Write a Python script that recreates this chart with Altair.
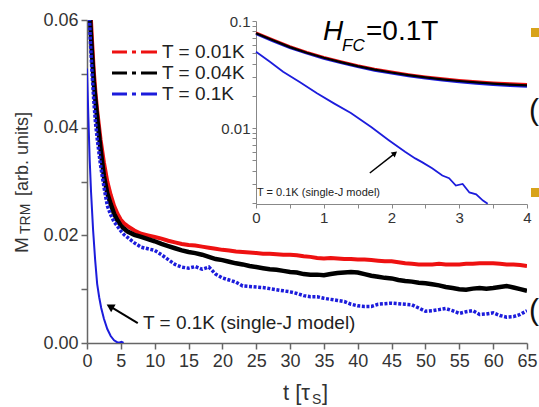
import altair as alt
import pandas as pd

FONT = "Liberation Sans"
OX, OY = 87, 20          # plot-area origin inside the 539x407 page
W, H = 440, 323

# ---------------- main panel data ----------------
MAIN_T = [0, 0.25, 0.5, 0.75, 1, 1.25, 1.5, 2, 2.5, 3, 3.5, 4, 4.5, 5, 5.5, 6,
          7, 8, 9, 10, 11, 12, 13, 14, 15, 16,
          17, 18, 19, 20, 21, 22, 23, 24, 25, 26,
          27, 28, 29, 30, 31, 32, 33, 34, 35, 36,
          37, 38, 39, 40, 41, 42, 43, 44, 45, 46,
          47, 48, 49, 50, 51, 52, 53, 54, 55, 56,
          57, 58, 59, 60, 61, 62, 63, 64, 65]

RED_001K = [0.078, 0.069, 0.062, 0.056, 0.0505, 0.0465, 0.0432, 0.0378, 0.0335, 0.0300,
            0.0275, 0.0255, 0.0240, 0.0229, 0.0222, 0.0217,
            0.0209, 0.0203, 0.0200, 0.0197, 0.0194, 0.0190, 0.0187, 0.0184, 0.0182, 0.0181,
            0.0179, 0.0177, 0.0175, 0.0173, 0.0172, 0.0170, 0.0169, 0.0168, 0.0167, 0.0166,
            0.0166, 0.0165, 0.0164, 0.0164, 0.0163, 0.0161, 0.0160, 0.0158, 0.0157, 0.0158,
            0.0157, 0.0156, 0.0156, 0.0155, 0.0155, 0.0154, 0.0153, 0.0152, 0.0152, 0.0150,
            0.0148, 0.0147, 0.0146, 0.0146, 0.0146, 0.0147, 0.0146, 0.0146, 0.0146, 0.0147,
            0.0147, 0.0148, 0.0148, 0.0148, 0.0147, 0.0146, 0.0146, 0.0145, 0.0143]

BLACK_004K = [0.077, 0.067, 0.059, 0.0535, 0.0485, 0.0450, 0.0418, 0.0360, 0.0310, 0.0278,
              0.0258, 0.0240, 0.0228, 0.0218, 0.0212, 0.0207,
              0.0201, 0.0197, 0.0193, 0.0189, 0.0184, 0.0180, 0.0176, 0.0172, 0.0169, 0.0167,
              0.0164, 0.0160, 0.0156, 0.0154, 0.0151, 0.0148, 0.0146, 0.0143, 0.0141, 0.0139,
              0.0137, 0.0136, 0.0134, 0.0132, 0.0131, 0.0128, 0.0127, 0.0127, 0.0126, 0.0128,
              0.0130, 0.0131, 0.0132, 0.0131, 0.0128, 0.0125, 0.0123, 0.0121, 0.0120, 0.0117,
              0.0115, 0.0114, 0.0112, 0.0111, 0.0109, 0.0107, 0.0104, 0.0102, 0.0100, 0.0099,
              0.0101, 0.0102, 0.0101, 0.0102, 0.0104, 0.0106, 0.0103, 0.0100, 0.0097]

BLUE_01K = [0.074, 0.064, 0.056, 0.050, 0.045, 0.041, 0.038, 0.0330, 0.0290, 0.0255,
            0.0238, 0.0225, 0.0217, 0.0208, 0.0201, 0.0196,
            0.0186, 0.0178, 0.0175, 0.0172, 0.0164, 0.0155, 0.0146, 0.0141, 0.0139, 0.0142,
            0.0137, 0.0141, 0.0128, 0.0121, 0.0117, 0.0113, 0.0106, 0.0105, 0.0104, 0.0103,
            0.0101, 0.0099, 0.0097, 0.0095, 0.0092, 0.0088, 0.0086, 0.0086, 0.0083, 0.0081,
            0.0079, 0.0077, 0.0072, 0.0069, 0.0068, 0.0068, 0.0072, 0.0073, 0.0074, 0.0073,
            0.0072, 0.0071, 0.0065, 0.0059, 0.0060, 0.0062, 0.0064, 0.0060, 0.0055, 0.0058,
            0.0060, 0.0053, 0.0054, 0.0056, 0.0051, 0.0048, 0.0049, 0.0053, 0.0060]

MODEL_T = [0, 0.2, 0.4, 0.6, 0.9, 1.2, 1.5, 1.8, 2.1, 2.5, 3.0, 3.5, 4.0, 4.5, 4.8, 5.1, 5.4]
MODEL_V = [0.051, 0.042, 0.034, 0.028, 0.021, 0.0155, 0.011, 0.0085, 0.0065, 0.0045,
           0.0026, 0.0013, 0.0005, 0.0001, 0.0001, 0.0002, 0.0]

# arrow (tail -> tip) in data units, main panel
ARROW_MAIN = {"t": [7.5], "v": [0.0037], "t2": [3.4], "v2": [0.0068]}

MAIN_X_TICKS = [0, 5, 10, 15, 20, 25, 30, 35, 40, 45, 50, 55, 60, 65]
MAIN_Y_TICKS = [0.0, 0.01, 0.02, 0.03, 0.04, 0.05, 0.06]

# ---------------- inset data ----------------
INSET_T = [0, 0.25, 0.5, 0.75, 1.0, 1.25, 1.5, 1.75, 2.0, 2.25, 2.5, 2.75, 3.0, 3.25, 3.5, 3.75, 4.0]
INSET_RED = [0.078, 0.067, 0.058, 0.051, 0.0458, 0.0418, 0.0384, 0.0356, 0.0335, 0.0317,
             0.0302, 0.0290, 0.0280, 0.0272, 0.0265, 0.0260, 0.0256]
INSET_BLACK = [0.077, 0.066, 0.057, 0.0505, 0.0453, 0.0413, 0.0379, 0.0351, 0.0330, 0.0312,
               0.0297, 0.0285, 0.0275, 0.0267, 0.0260, 0.0254, 0.0250]
INSET_BLUE = [0.076, 0.065, 0.056, 0.0498, 0.0447, 0.0407, 0.0373, 0.0345, 0.0324, 0.0306,
              0.0291, 0.0279, 0.0269, 0.0261, 0.0254, 0.0248, 0.0244]
INSET_MODEL_T = [0, 0.2, 0.4, 0.65, 0.9, 1.15, 1.4, 1.7, 1.96, 2.2, 2.35, 2.45, 2.6,
                 2.75, 2.85, 2.95, 3.05, 3.15, 3.25, 3.35, 3.42]
INSET_MODEL_V = [0.0516, 0.0418, 0.0336, 0.0268, 0.0211, 0.0170, 0.0138, 0.0102, 0.0077,
                 0.0060, 0.0052, 0.0048, 0.0042, 0.0036, 0.0034, 0.0029, 0.0030, 0.0025,
                 0.0024, 0.0021, 0.00196]
ARROW_INSET = {"t": [1.68], "v": [0.0038], "t2": [2.05], "v2": [0.0058]}

INSET_X_TICKS = [0, 0.5, 1, 1.5, 2, 2.5, 3, 3.5, 4]
INSET_Y_TICKS = [0.002, 0.003, 0.004, 0.005, 0.006, 0.007, 0.008, 0.009,
                 0.01, 0.02, 0.03, 0.04, 0.05, 0.06, 0.07, 0.08, 0.09, 0.1]

LEGEND_LABELS = ["T = 0.01K", "T = 0.04K", "T = 0.1K"]
LEGEND_COLORS = ["#ee1111", "#000000", "#1c1cdc"]

RED, BLACK, BLUE = "#ee1111", "#000000", "#1c1cdc"
AXC = "#666666"

# ---------------- scales / axes ----------------
ax_main_x = alt.Axis(values=MAIN_X_TICKS, title=None, grid=False, orient="bottom",
                     tickSize=6, tickWidth=1.5, domainWidth=1.5, domainColor=AXC, tickColor=AXC,
                     labelFont=FONT, labelFontSize=18, labelColor="#333333", labelPadding=3,
                     labelFlush=False, labelOverlap=False)
ax_main_y = alt.Axis(values=MAIN_Y_TICKS, title=None, grid=False, orient="left",
                     tickSize=6, tickWidth=1.5, domainWidth=1.5, domainColor=AXC, tickColor=AXC,
                     labelFont=FONT, labelFontSize=18, labelColor="#333333", labelPadding=3,
                     labelFlush=False, labelOverlap=False,
                     labelExpr="round(datum.value*100) % 2 == 0 ? format(datum.value, '.2f') : ''")
sx_main = alt.Scale(domain=[0, 65], nice=False, zero=False)
sy_main = alt.Scale(domain=[0, 0.06], nice=False, zero=False)


def XM(field="t"):
    return alt.X(field, type="quantitative", scale=sx_main, axis=ax_main_x)


def YM(field):
    return alt.Y(field, type="quantitative", scale=sy_main, axis=ax_main_y)


main_df = pd.DataFrame({"t": MAIN_T, "red": RED_001K, "black": BLACK_004K, "blue": BLUE_01K})
model_df = pd.DataFrame({"t": MODEL_T, "v": MODEL_V})
arrow_main_df = pd.DataFrame(ARROW_MAIN)

red_line = alt.Chart(main_df).mark_line(color=RED, strokeWidth=4, clip=True).encode(x=XM(), y=YM("red"))
black_line = alt.Chart(main_df).mark_line(color=BLACK, strokeWidth=4.5, clip=True).encode(x=XM(), y=YM("black"))
blue_line = alt.Chart(main_df).mark_line(color=BLUE, strokeWidth=3.5, strokeDash=[3, 1.6],
                                         clip=True).encode(x=XM(), y=YM("blue"))
model_line = alt.Chart(model_df).mark_line(color=BLUE, strokeWidth=2, clip=True).encode(x=XM(), y=YM("v"))
arrow_rule = alt.Chart(arrow_main_df).mark_rule(color="black", strokeWidth=2).encode(
    x=XM(), y=YM("v"), x2="t2", y2="v2")
arrow_head = alt.Chart(arrow_main_df).mark_point(shape="triangle-up", filled=True, size=80,
                                                 angle=300, color="black", opacity=1).encode(
    x=XM("t2"), y=YM("v2"))

main = alt.layer(red_line, black_line, blue_line, model_line, arrow_rule, arrow_head)

# inset placed through explicit pixel ranges
ax_in_x = alt.Axis(values=INSET_X_TICKS, title=None, grid=False, orient="bottom", offset=-139,
                   tickSize=4, domainColor="#888888", tickColor="#888888",
                   labelFont=FONT, labelFontSize=15, labelColor="#333333", labelPadding=2,
                   labelFlush=False, labelOverlap=False,
                   labelExpr="datum.value % 1 == 0 ? format(datum.value, 'd') : ''")
ax_in_y = alt.Axis(values=INSET_Y_TICKS, title=None, grid=False, orient="left", offset=-169,
                   tickSize=4, domainColor="#888888", tickColor="#888888",
                   labelFont=FONT, labelFontSize=15, labelColor="#333333", labelPadding=2,
                   labelFlush=False, labelOverlap=False,
                   labelExpr="datum.value > 0.09 ? '0.1' : (abs(datum.value - 0.01) < 0.0001 ? '0.01' : '')")
sx_in = alt.Scale(domain=[0, 4], range=[169, 440], nice=False, zero=False)
sy_in = alt.Scale(type="log", domain=[0.00195, 0.1], range=[184, 1], nice=False)


def XI(field="t"):
    return alt.X(field, type="quantitative", scale=sx_in, axis=ax_in_x)


def YI(field):
    return alt.Y(field, type="quantitative", scale=sy_in, axis=ax_in_y)


inset_df = pd.DataFrame({"t": INSET_T, "red": INSET_RED, "black": INSET_BLACK, "blue": INSET_BLUE})
inset_model_df = pd.DataFrame({"t": INSET_MODEL_T, "v": INSET_MODEL_V})
arrow_in_df = pd.DataFrame(ARROW_INSET)

in_blue = alt.Chart(inset_df).mark_line(color=BLUE, strokeWidth=2.5).encode(x=XI(), y=YI("blue"))
in_red = alt.Chart(inset_df).mark_line(color=RED, strokeWidth=2.5).encode(x=XI(), y=YI("red"))
in_black = alt.Chart(inset_df).mark_line(color=BLACK, strokeWidth=2.2).encode(x=XI(), y=YI("black"))
in_model = alt.Chart(inset_model_df).mark_line(color=BLUE, strokeWidth=1.8).encode(x=XI(), y=YI("v"))
in_arrow = alt.Chart(arrow_in_df).mark_rule(color="black", strokeWidth=1.5).encode(
    x=XI(), y=YI("v"), x2="t2", y2="v2")
in_head = alt.Chart(arrow_in_df).mark_point(shape="triangle-up", filled=True, size=40,
                                            angle=51, color="black", opacity=1).encode(
    x=XI("t2"), y=YI("v2"))

inset = alt.layer(in_blue, in_red, in_black, in_model, in_arrow, in_head)

# ---------------- decorations (pixel positions) ----------------
one = pd.DataFrame({"d": [0]})


def txt(s, x, y, size, color="#222222", align="left", baseline="middle", angle=0, style="normal"):
    return alt.Chart(one).mark_text(text=s, font=FONT, fontSize=size, color=color, align=align,
                                    baseline=baseline, angle=angle, fontStyle=style).encode(
        x=alt.value(x - OX), y=alt.value(y - OY))


decos = []
for lab, col, yy in zip(LEGEND_LABELS, LEGEND_COLORS, [52, 73, 94]):
    decos.append(alt.Chart(one).mark_rule(color=col, strokeWidth=3, strokeDash=[15, 5, 4, 5, 17],
                                          strokeCap="butt").encode(
        x=alt.value(112 - OX), x2=alt.value(157 - OX), y=alt.value(yy - OY)))
    decos.append(txt(lab, 162, yy, 19))

decos += [
    txt("T = 0.1K (single-J model)", 143, 323, 19),
    txt("T = 0.1K (single-J model)", 257, 193, 11),
    txt("H", 323, 40, 28, color="#000000", baseline="alphabetic", style="italic"),
    txt("FC", 342, 51, 17, color="#000000", baseline="alphabetic", style="italic"),
    txt("=0.1T", 366, 40, 28, color="#000000", baseline="alphabetic"),
    # y title
    txt("M", 28, 253, 19, color="#333333", baseline="alphabetic", angle=270),
    txt("TRM", 30, 234, 14, color="#333333", baseline="alphabetic", angle=270),
    txt("[arb. units]", 28, 196, 18, color="#333333", baseline="alphabetic", angle=270),
    # x title
    txt("t [τ", 283, 400, 22, color="#333333", baseline="alphabetic"),
    txt("S", 312, 404, 14, color="#333333", baseline="alphabetic"),
    txt("]", 322, 400, 22, color="#333333", baseline="alphabetic"),
    # slide fragments at the right edge
    txt("(", 529, 120, 30, color="#111111", baseline="alphabetic"),
    txt("(", 529, 320, 30, color="#111111", baseline="alphabetic"),
]
for y0 in [28, 188]:
    decos.append(alt.Chart(one).mark_rect(color="#d8a31a").encode(
        x=alt.value(531 - OX), x2=alt.value(539 - OX), y=alt.value(y0 - OY), y2=alt.value(y0 + 9 - OY)))

chart = alt.layer(main, inset, *decos).resolve_scale(x="independent", y="independent").properties(
    width=W, height=H, autosize="none",
    padding={"left": OX, "top": OY, "right": 539 - OX - W, "bottom": 407 - OY - H},
    background="white",
).configure_view(strokeWidth=0)

chart.save("out.html", embed_options={"renderer": "svg", "actions": False})
